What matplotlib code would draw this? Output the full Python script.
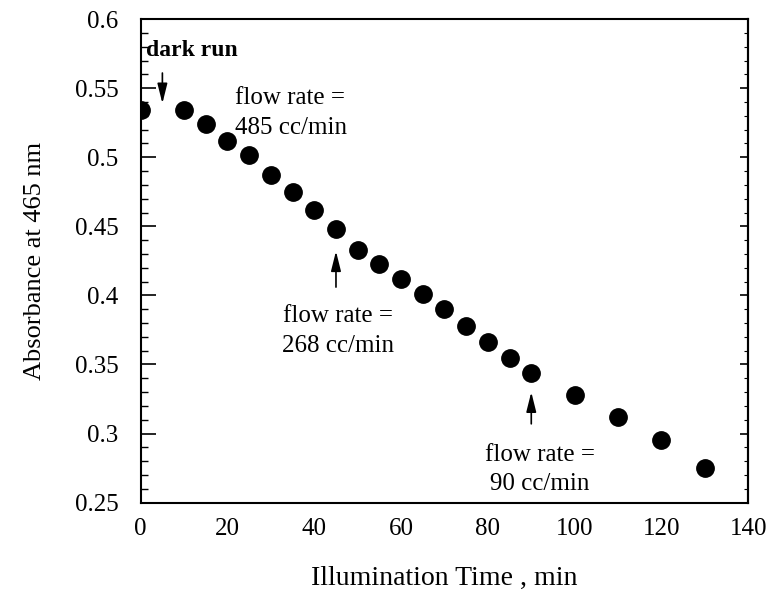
import matplotlib.pyplot as plt
from matplotlib.ticker import MultipleLocator

# datos
tiempo = [0, 10, 15, 20, 25, 30, 35, 40, 45, 50, 55, 60, 65, 70,
          75, 80, 85, 90, 100, 110, 120, 130]
absorbancia = [0.534, 0.534, 0.524, 0.512, 0.502, 0.487, 0.475, 0.462,
               0.448, 0.433, 0.423, 0.412, 0.401, 0.390, 0.378, 0.366,
               0.355, 0.344, 0.328, 0.312, 0.295, 0.275]

# anotaciones: (texto, x, y, alineacion)
notas = [
    ('flow rate =\n485 cc/min', 21.7, 0.532, 'left'),
    ('flow rate =\n268 cc/min', 45.5, 0.374, 'center'),
    ('flow rate =\n90 cc/min', 92.0, 0.274, 'center'),
]
# flechas: (x, y_cola, y_punta)
flechas = [(5, 0.561, 0.539), (45, 0.406, 0.432), (90, 0.307, 0.330)]

plt.rcParams['font.family'] = ['Liberation Serif', 'DejaVu Serif']

fig = plt.figure(figsize=(7.73, 5.99), dpi=100)
ax = fig.add_axes([0.182, 0.161, 0.786, 0.807])

ax.plot(tiempo, absorbancia, linestyle='none', marker='o',
        markersize=12.5, color='black')

ax.set_xlim(0, 140)
ax.set_ylim(0.25, 0.6)
ax.xaxis.set_major_locator(MultipleLocator(20))
ax.yaxis.set_minor_locator(MultipleLocator(0.01))
ax.set_yticks([0.25, 0.3, 0.35, 0.4, 0.45, 0.5, 0.55, 0.6])
ax.set_yticklabels(['0.25', '0.3', '0.35', '0.4', '0.45', '0.5', '0.55', '0.6'])

ax.tick_params(axis='x', which='both', length=0, labelsize=18, pad=11)
ax.tick_params(axis='y', which='major', direction='in', length=11,
               width=1.2, labelsize=18, pad=16)
ax.tick_params(axis='y', which='minor', direction='in', length=5, width=1)
for s in ax.spines.values():
    s.set_linewidth(1.5)

# ticks del lado derecho, mas cortos
der = ax.secondary_yaxis('right')
der.yaxis.set_major_locator(MultipleLocator(0.05))
der.yaxis.set_minor_locator(MultipleLocator(0.01))
der.tick_params(which='major', direction='in', length=6, width=1.2, labelright=False)
der.tick_params(which='minor', direction='in', length=3, width=0.8)
der.spines['right'].set_linewidth(1.5)

ax.set_xlabel('Illumination Time , min', fontsize=20, labelpad=19)
ax.set_ylabel('Absorbance at 465 nm', fontsize=19, labelpad=21)

ax.text(1.3, 0.577, 'dark run', fontsize=17, fontweight='bold',
        ha='left', va='center')
for txt, x, y, al in notas:
    ax.text(x, y, txt, fontsize=18, ha=al, va='center', linespacing=1.45,
            multialignment='left' if al == 'left' else 'center')

for x, y0, y1 in flechas:
    ax.annotate('', xy=(x, y1), xytext=(x, y0),
                arrowprops=dict(arrowstyle='-|>,head_width=0.3,head_length=1.2',
                                color='black', lw=1.2, shrinkA=0, shrinkB=0))

plt.savefig('out.png', dpi=100)
plt.close()
